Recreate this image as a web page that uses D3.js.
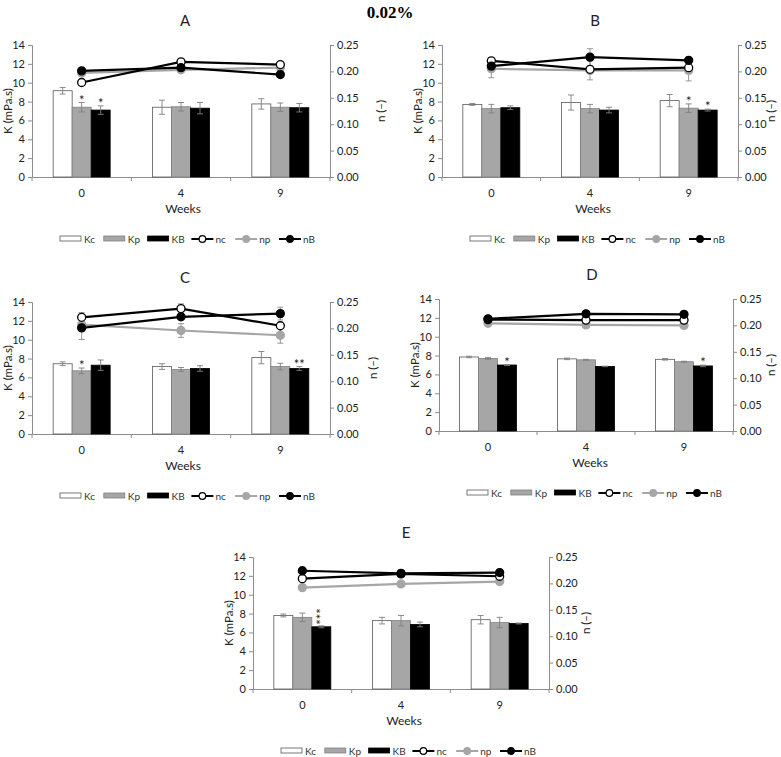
<!DOCTYPE html>
<html><head><meta charset="utf-8">
<script src="https://cdn.jsdelivr.net/npm/d3@7"></script>
<style>
body{margin:0;background:#fff;}
svg{display:block;font-family:Lato,"Open Sans",sans-serif;}
</style></head>
<body><svg id="c" width="781" height="757"></svg>
<script>
// ---------- data ----------
const weeks = ["0", "4", "9"];
const panelNames = ["A", "B", "C", "D", "E"];
const kSeries = ["Kc", "Kp", "KB"];
const nSeries = ["nc", "np", "nB"];
const kTicks = [0, 2, 4, 6, 8, 10, 12, 14];
const nTicks = [0, 0.05, 0.10, 0.15, 0.20, 0.25];

// rows = panels A..E, columns = weeks 0,4,9
const Kc    = [[9.15, 7.4, 7.75], [7.7, 7.9, 8.1], [7.45, 7.15, 8.1], [7.85, 7.65, 7.6], [7.8, 7.25, 7.35]];
const KcErr = [[0.35, 0.75, 0.55], [0.1, 0.8, 0.65], [0.2, 0.3, 0.65], [0.08, 0.08, 0.08], [0.15, 0.35, 0.45]];
const Kp    = [[7.4, 7.45, 7.4], [7.25, 7.25, 7.3], [6.7, 6.85, 7.15], [7.7, 7.55, 7.35], [7.6, 7.25, 7.05]];
const KpErr = [[0.5, 0.45, 0.45], [0.45, 0.45, 0.45], [0.3, 0.2, 0.35], [0.1, 0.05, 0.05], [0.45, 0.55, 0.55]];
const KB    = [[7.1, 7.3, 7.35], [7.35, 7.1, 7.1], [7.3, 6.95, 6.95], [7.0, 6.85, 6.9], [6.6, 6.85, 6.95]];
const KBErr = [[0.45, 0.6, 0.45], [0.2, 0.3, 0.1], [0.55, 0.3, 0.2], [0.05, 0.03, 0.08], [0.1, 0.25, 0.05]];

const nc    = [[0.179, 0.218, 0.213], [0.220, 0.204, 0.207], [0.221, 0.2375, 0.205], [0.211, 0.210, 0.210], [0.209, 0.218, 0.2135]];
const ncErr = [[0, 0, 0], [0, 0, 0], [0.009, 0.009, 0], [0, 0, 0], [0, 0, 0]];
const np    = [[0.197, 0.203, 0.207], [0.205, 0.202, 0.202], [0.207, 0.196, 0.187], [0.204, 0.201, 0.200], [0.192, 0.199, 0.2035]];
const npErr = [[0, 0, 0], [0.017, 0.018, 0.02], [0, 0.013, 0.015], [0, 0, 0], [0, 0, 0]];
const nB    = [[0.201, 0.207, 0.194], [0.210, 0.227, 0.221], [0.201, 0.222, 0.228], [0.2125, 0.222, 0.221], [0.224, 0.219, 0.2205]];
const nBErr = [[0, 0, 0], [0, 0.016, 0], [0.022, 0, 0.012], [0, 0, 0], [0, 0, 0]];

// significance markers: [panel index, series, week index, text]
const stars = [[0, "Kp", 0, "*"], [0, "KB", 0, "*"], [1, "Kp", 2, "*"], [1, "KB", 2, "*"],
               [2, "Kp", 0, "*"], [2, "KB", 2, "**"], [3, "KB", 0, "*"], [3, "KB", 2, "*"], [4, "KB", 0, "***"]];

const mainTitle = "0.02%";
const yLabel = "K (mPa.s)";
const y2Label = "n (–)";
const xLabel = "Weeks";

// ---------- layout ----------
const origins = [[32, 45], [442, 45], [32, 302], [439, 299], [253, 557]];
const widths = [298, 296, 298, 294, 296];
const H = 132;
const rightLabelOff = [51, 33, 43, 38, 37];
const axisCol = "#8c8c8c";
const kData = {Kc: [Kc, KcErr], Kp: [Kp, KpErr], KB: [KB, KBErr]};
const nData = {nc: [nc, ncErr], np: [np, npErr], nB: [nB, nBErr]};
const kFill = {Kc: "#ffffff", Kp: "#a6a6a6", KB: "#000000"};
const kStroke = {Kc: "#595959", Kp: "#808080", KB: "#000000"};
const nLine = {nc: "#000000", np: "#a6a6a6", nB: "#000000"};
const nMark = {nc: "#ffffff", np: "#a6a6a6", nB: "#000000"};
const nMarkStroke = {nc: "#000000", np: "#a6a6a6", nB: "#000000"};

const svg = d3.select("#c");
svg.append("text").attr("x", 390).attr("y", 18).attr("text-anchor", "middle")
  .attr("font-family", "'Liberation Serif','DejaVu Serif',serif").attr("font-weight", "bold")
  .attr("font-size", 17).text(mainTitle);

panelNames.forEach((pn, pi) => {
  const [ox, oy] = origins[pi];
  const W = widths[pi];
  const g = svg.append("g").attr("transform", `translate(${ox},${oy})`);
  const x = d3.scaleBand().domain(weeks).range([0, W]);
  const xi = d3.scaleBand().domain(kSeries).range([0, 57]);
  const y = d3.scaleLinear().domain([0, 14]).range([H, 0]);
  const y2 = d3.scaleLinear().domain([0, 0.25]).range([H, 0]);
  const cx = w => x(w) + x.bandwidth() / 2;
  const bx = (w, s) => cx(w) - 28.5 + xi(s);

  // axes
  const ax = g.append("g").call(d3.axisLeft(y).tickValues(kTicks).tickSize(4).tickPadding(3));
  const ax2 = g.append("g").attr("transform", `translate(${W},0)`)
    .call(d3.axisRight(y2).tickValues(nTicks).tickSize(4).tickPadding(3).tickFormat(d3.format(".2f")));
  const axb = g.append("g").attr("transform", `translate(0,${H})`)
    .call(d3.axisBottom(x).tickSize(0).tickPadding(12));
  [ax, ax2, axb].forEach(a => {
    a.select(".domain").attr("stroke", axisCol);
    a.selectAll(".tick line").attr("stroke", axisCol);
    a.selectAll("text").attr("fill", "#222").attr("font-size", 11).attr("font-family", "Lato,'Open Sans',sans-serif");
  });
  // category boundary ticks
  const bounds = weeks.map(w => x(w)).concat([W]);
  g.selectAll(".bt").data(bounds).join("line")
    .attr("x1", d => d).attr("x2", d => d).attr("y1", H).attr("y2", H + 4).attr("stroke", axisCol);

  // bars
  kSeries.forEach(s => {
    const [vals, errs] = kData[s];
    const rows = weeks.map((w, i) => ({w, v: vals[pi][i], e: errs[pi][i]}));
    g.selectAll(".b" + s).data(rows).join("rect")
      .attr("x", d => bx(d.w, s)).attr("width", xi.bandwidth())
      .attr("y", d => y(d.v)).attr("height", d => y(0) - y(d.v))
      .attr("fill", kFill[s]).attr("stroke", kStroke[s]).attr("stroke-width", 0.8);
    rows.forEach(d => {
      const mx = bx(d.w, s) + xi.bandwidth() / 2;
      const e = g.append("g").attr("stroke", "#7f7f7f").attr("stroke-width", 0.9);
      e.append("line").attr("x1", mx).attr("x2", mx).attr("y1", y(d.v - d.e)).attr("y2", y(d.v + d.e));
      [d.v - d.e, d.v + d.e].forEach(t => e.append("line").attr("x1", mx - 3).attr("x2", mx + 3).attr("y1", y(t)).attr("y2", y(t)));
    });
  });

  // stars
  stars.filter(s => s[0] === pi).forEach(([p, s, wi, txt]) => {
    const [vals, errs] = kData[s];
    const w = weeks[wi];
    const mx = bx(w, s) + xi.bandwidth() / 2;
    const top = y(vals[p][wi] + errs[p][wi]);
    if (txt.length >= 3) {
      g.append("text").attr("transform", `translate(${mx + 5},${top - 1}) rotate(-90)`)
        .attr("font-size", 13).attr("fill", "#222").attr("text-anchor", "start").text(txt);
    } else {
      g.append("text").attr("x", mx).attr("y", top + 2).attr("text-anchor", "middle")
        .attr("font-size", 13).attr("fill", "#222").text(txt);
    }
  });

  // n lines
  const nOrder = ["np", "nc", "nB"];
  nOrder.forEach(s => {
    const [vals, errs] = nData[s];
    const rows = weeks.map((w, i) => ({w, v: vals[pi][i], e: errs[pi][i]}));
    rows.filter(d => d.e > 0).forEach(d => {
      const e = g.append("g").attr("stroke", "#8c8c8c").attr("stroke-width", 0.9);
      e.append("line").attr("x1", cx(d.w)).attr("x2", cx(d.w)).attr("y1", y2(d.v - d.e)).attr("y2", y2(d.v + d.e));
      [d.v - d.e, d.v + d.e].forEach(t => e.append("line").attr("x1", cx(d.w) - 3).attr("x2", cx(d.w) + 3).attr("y1", y2(t)).attr("y2", y2(t)));
    });
  });
  nOrder.forEach(s => {
    const [vals] = nData[s];
    const rows = weeks.map((w, i) => ({w, v: vals[pi][i]}));
    g.append("path").datum(rows)
      .attr("d", d3.line().x(d => cx(d.w)).y(d => y2(d.v)))
      .attr("fill", "none").attr("stroke", nLine[s]).attr("stroke-width", 2.2);
    g.selectAll(".m" + s).data(rows).join("circle")
      .attr("cx", d => cx(d.w)).attr("cy", d => y2(d.v)).attr("r", 4)
      .attr("fill", nMark[s]).attr("stroke", nMarkStroke[s]).attr("stroke-width", 1.3);
  });

  // labels
  g.append("text").attr("x", 153).attr("y", -19).attr("text-anchor", "middle")
    .attr("font-size", 15).attr("fill", "#222").text(pn);
  g.append("text").attr("x", 151).attr("y", H + 36).attr("text-anchor", "middle")
    .attr("font-size", 12).attr("fill", "#222").text(xLabel);
  g.append("text").attr("transform", `translate(-20,${H / 2}) rotate(-90)`).attr("text-anchor", "middle")
    .attr("font-size", 11.5).attr("fill", "#222").text(yLabel);
  g.append("text").attr("transform", `translate(${W + rightLabelOff[pi] + 4},${H / 2}) rotate(-90)`).attr("text-anchor", "middle")
    .attr("font-size", 11.5).attr("fill", "#222").text(y2Label);

  // legend
  const lg = g.append("g").attr("transform", `translate(28,${H + 62})`);
  const items = kSeries.concat(nSeries);
  items.forEach((s, i) => {
    const it = lg.append("g").attr("transform", `translate(${i * 43.8},0)`);
    if (kSeries.includes(s)) {
      it.append("rect").attr("x", 0).attr("y", -3).attr("width", 21).attr("height", 5)
        .attr("fill", kFill[s]).attr("stroke", kStroke[s]).attr("stroke-width", 0.8);
    } else {
      it.append("line").attr("x1", 0).attr("x2", 22).attr("y1", 0).attr("y2", 0)
        .attr("stroke", nLine[s]).attr("stroke-width", 2);
      it.append("circle").attr("cx", 11).attr("cy", 0).attr("r", 3.3)
        .attr("fill", nMark[s]).attr("stroke", nMarkStroke[s]).attr("stroke-width", 1.2);
    }
    it.append("text").attr("x", 24).attr("y", 3.5).attr("font-size", 10).attr("fill", "#333").text(s);
  });
});
</script></body></html>
